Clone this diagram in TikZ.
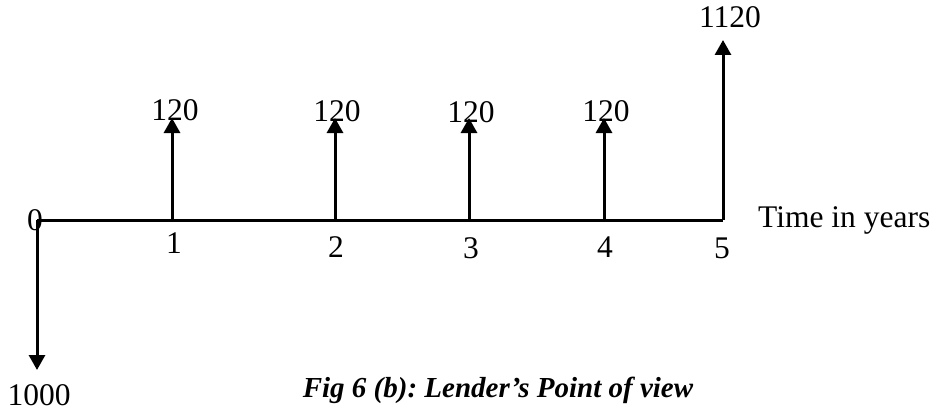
\documentclass[tikz,border=0pt]{standalone}
\usepackage{fontspec}
\setmainfont{Liberation Serif}
\usetikzlibrary{arrows.meta}
\frenchspacing
\begin{document}
\begin{tikzpicture}[x=1pt,y=-1pt,
  axisline/.style={line width=3pt},
  flow/.style={line width=3pt,-{Triangle[width=16pt,length=15pt]}},
  lbl/.style={inner sep=0pt,font=\fontsize{31.5}{32}\selectfont},
  captext/.style={inner sep=0pt,font=\fontsize{29}{30}\selectfont\bfseries\itshape}]
\useasboundingbox (0,0) rectangle (934,412);
% axis points
\coordinate (t0) at (37,220);
\coordinate (t1) at (172,220);
\coordinate (t2) at (335,220);
\coordinate (t3) at (469,220);
\coordinate (t4) at (604,220);
\coordinate (t5) at (723,220);
% arrow tips
\coordinate (d0) at (37,370);
\coordinate (u1) at (172,118);
\coordinate (u2) at (335,118);
\coordinate (u3) at (469,118);
\coordinate (u4) at (604,118);
\coordinate (u5) at (723,40);
\draw[axisline] (t0) -- (t5);
\draw[flow] (t0) -- (d0);
\draw[flow] (t1) -- (u1);
\draw[flow] (t2) -- (u2);
\draw[flow] (t3) -- (u3);
\draw[flow] (t4) -- (u4);
\draw[flow] (t5) -- (u5);
% labels
\node[lbl] (n0) at (35,220) {0};
\node[lbl] (n1) at (174,243) {1};
\node[lbl] (n2) at (336,247) {2};
\node[lbl] (n3) at (471,248) {3};
\node[lbl] (n4) at (605,247) {4};
\node[lbl] (n5) at (722,248) {5};
\node[lbl] (v1) at (175,110) {120};
\node[lbl] (v2) at (337,111) {120};
\node[lbl] (v3) at (471,112) {120};
\node[lbl] (v4) at (606,111) {120};
\node[lbl] (v5) at (730,17) {1120};
\node[lbl] (v0) at (39,395) {1000};
\node[lbl,anchor=base west] (tl) at (758,227) {Time in years};
\node[captext] (caption) at (498,390) {Fig 6 (b): Lender’s Point of view};
\end{tikzpicture}
\end{document}
